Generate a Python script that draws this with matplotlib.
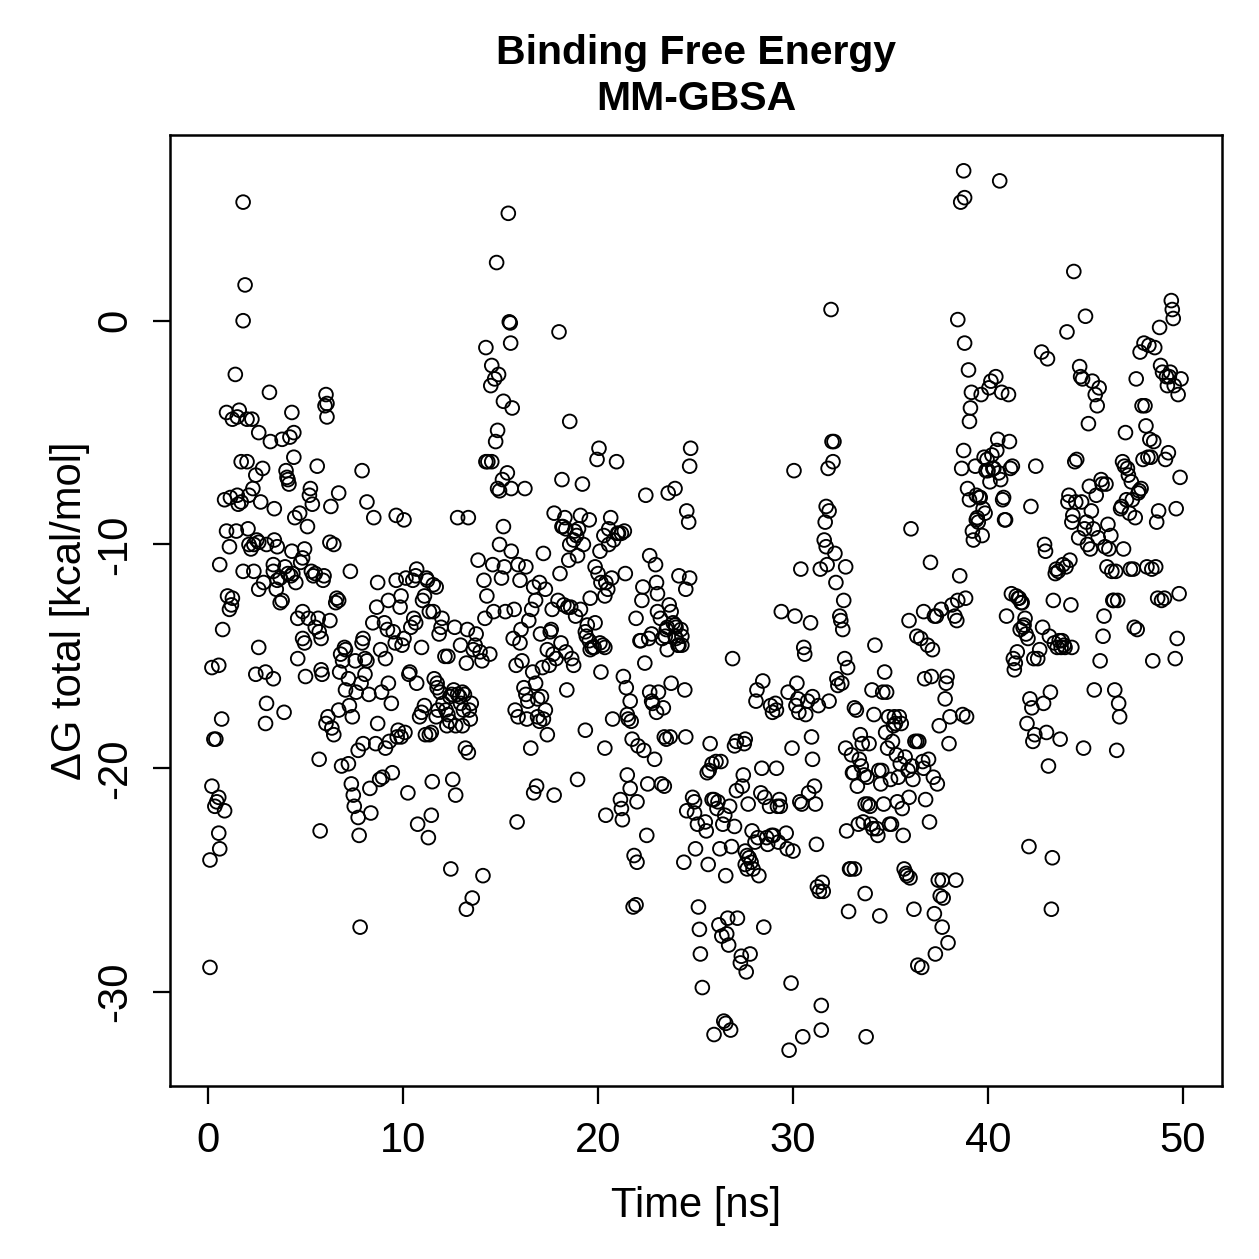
import numpy as np
import matplotlib
matplotlib.use("Agg")
import matplotlib.pyplot as plt

plt.rcParams['font.family'] = ['Liberation Sans', 'DejaVu Sans']
plt.rcParams['axes.unicode_minus'] = False

# values, in blocks of about 5 ns
t_00 = [0.10, 0.10, 0.20, 0.20, 0.30, 0.40, 0.45, 0.35, 0.55, 0.55, 0.55, 0.60, 0.60, 0.70, 0.75, 0.85, 0.85,
        0.95, 0.95, 1.00, 1.10, 1.10, 1.20, 1.25, 1.25, 1.15, 1.40, 1.50, 1.50, 1.60, 1.70, 1.70, 1.45, 1.55,
        1.80, 1.80, 1.80, 1.90, 2.00, 2.00, 2.05, 2.10, 2.10, 2.20, 2.35, 2.35, 2.30, 2.25, 2.45, 2.45, 2.50,
        2.60, 2.60, 2.60, 2.60, 2.70, 2.80, 2.85, 2.95, 2.95, 3.00, 3.00, 3.15, 3.20, 3.35, 3.35, 3.35, 3.40,
        3.40, 3.55, 3.55, 3.50, 3.70, 3.70, 3.80, 3.80, 3.90, 3.95, 4.10, 4.10, 4.00, 4.05, 4.15, 4.25, 4.30,
        4.30, 4.20, 4.40, 4.40, 4.35, 4.50, 4.45, 4.60, 4.60, 4.70, 4.75, 4.85, 4.85, 4.85, 4.95, 4.95, 5.00]
g_00 = [-28.9, -24.1, -20.8, -15.5, -18.7, -18.7, -21.5, -21.7, -21.3, -22.9, -15.4, -23.6, -10.9, -17.8, -13.8,
        -21.9, -8.0, -4.1, -9.4, -12.3, -12.9, -10.1, -12.7, -12.4, -4.4, -7.9, -2.4, -4.3, -7.8, -4.0, -8.1,
        -6.3, -9.4, -8.2, 5.3, 0.0, -11.2, 1.6, -6.3, -4.4, -9.3, -10.0, -7.8, -10.2, -10.0, -11.2, -7.5, -4.4,
        -6.9, -15.8, -9.8, -9.9, -5.0, -12.0, -14.6, -8.1, -6.6, -11.7, -15.7, -18.0, -10.0, -17.1, -3.2, -5.4,
        -11.2, -10.9, -16.0, -8.4, -9.8, -10.1, -11.6, -12.0, -11.5, -12.6, -12.5, -5.3, -17.5, -11.0, -11.3,
        -7.1, -6.7, -7.0, -7.3, -11.4, -10.3, -4.1, -5.2, -5.0, -6.1, -11.3, -11.7, -8.8, -13.3, -15.1, -8.6,
        -10.8, -10.6, -13.0, -14.2, -14.4, -10.2, -15.9]

t_05 = [5.10, 5.15, 5.20, 5.25, 5.35, 5.30, 5.40, 5.50, 5.50, 5.60, 5.65, 5.70, 5.70, 5.80, 5.80, 5.85, 5.75,
        5.90, 5.95, 6.00, 6.10, 6.10, 6.05, 6.05, 6.15, 6.25, 6.25, 6.30, 6.35, 6.45, 6.45, 6.55, 6.60, 6.70,
        6.70, 6.70, 6.75, 6.80, 6.85, 6.90, 7.00, 7.05, 7.05, 7.20, 7.20, 7.25, 7.40, 7.30, 7.35, 7.45, 7.50,
        7.70, 7.70, 7.55, 7.60, 7.75, 7.80, 7.85, 7.90, 7.90, 7.95, 7.95, 8.05, 8.05, 8.15, 8.15, 8.25, 8.30,
        8.35, 8.45, 8.50, 8.60, 8.65, 8.70, 8.70, 8.80, 8.95, 8.85, 8.90, 9.05, 9.20, 9.10, 9.10, 9.25, 9.25,
        9.30, 9.40, 9.45, 9.50, 9.60, 9.65, 9.65, 9.70, 9.75, 9.90, 9.90, 9.85, 9.95]
g_05 = [-9.2, -13.3, -7.8, -7.5, -8.2, -11.2, -11.4, -11.3, -13.7, -6.5, -13.3, -13.9, -19.6, -14.2, -15.6,
        -15.8, -22.8, -11.6, -11.4, -3.8, -3.7, -4.3, -3.3, -18.0, -17.7, -9.9, -13.4, -8.3, -18.2, -18.5,
        -10.0, -12.6, -12.4, -7.7, -17.4, -12.5, -15.7, -14.9, -19.9, -15.2, -14.6, -14.7, -16.5, -16.0, -19.8,
        -17.2, -17.7, -11.2, -20.7, -21.2, -21.7, -22.2, -19.2, -15.2, -16.6, -23.0, -27.1, -16.2, -14.4, -6.7,
        -14.2, -18.9, -15.8, -15.1, -15.2, -8.1, -16.7, -20.9, -22.0, -13.5, -8.8, -18.9, -12.8, -18.0, -11.7,
        -20.5, -20.4, -14.7, -16.6, -13.5, -13.8, -19.1, -15.1, -12.5, -16.2, -18.8, -17.1, -20.2, -13.9, -14.4,
        -8.7, -11.6, -18.6, -18.3, -18.6, -12.3, -12.8, -14.5]

t_10 = [10.05, 10.05, 10.10, 10.15, 10.25, 10.30, 10.35, 10.40, 10.50, 10.55, 10.65, 10.65, 10.70, 10.70, 10.75,
        10.85, 10.95, 10.95, 11.00, 11.10, 11.10, 11.15, 11.20, 11.25, 11.30, 11.35, 11.35, 11.45, 11.45, 11.50,
        11.55, 11.55, 11.60, 11.75, 11.75, 11.70, 11.70, 11.80, 11.85, 11.90, 11.95, 12.00, 12.05, 12.20, 12.30,
        12.30, 12.15, 12.25, 12.40, 12.40, 12.45, 12.50, 12.60, 12.55, 12.65, 12.70, 12.70, 12.80, 12.80, 12.90,
        12.95, 12.95, 13.05, 13.05, 13.15, 13.10, 13.20, 13.25, 13.25, 13.30, 13.35, 13.35, 13.40, 13.45, 13.50,
        13.55, 13.60, 13.70, 13.75, 13.85, 13.95, 14.05, 14.10, 14.15, 14.20, 14.25, 14.25, 14.30, 14.35, 14.55,
        14.45, 14.50, 14.55, 14.60, 14.65, 14.70, 14.75, 14.80, 14.85, 14.85, 14.95, 14.95, 14.90]
g_10 = [-8.9, -14.2, -18.4, -11.5, -21.1, -15.8, -15.7, -13.7, -11.6, -13.3, -13.5, -11.4, -11.1, -16.2, -22.5,
        -17.7, -17.5, -14.6, -12.5, -12.3, -17.2, -18.5, -11.5, -11.6, -23.1, -13.0, -18.5, -18.4, -22.1, -20.6,
        -11.8, -13.0, -16.0, -16.2, -16.4, -11.9, -17.7, -17.4, -14.0, -16.6, -13.7, -13.3, -17.1, -17.4, -17.6,
        -15.0, -15.0, -18.1, -16.8, -17.9, -24.5, -16.7, -16.5, -20.5, -13.7, -18.1, -21.2, -8.8, -16.7, -16.8,
        -14.5, -17.1, -16.6, -18.1, -16.7, -17.4, -19.1, -15.3, -26.3, -13.8, -8.8, -19.3, -17.4, -17.8, -17.1,
        -25.8, -14.7, -14.5, -14.0, -10.7, -14.8, -15.2, -24.8, -11.6, -13.3, -1.2, -6.3, -12.3, -6.3, -6.3,
        -14.9, -2.9, -2.0, -10.9, -13.0, -2.6, -5.4, 2.6, -4.9, -7.5, -7.6, -10.0, -2.4]

t_15 = [15.05, 15.10, 15.15, 15.15, 15.20, 15.25, 15.35, 15.40, 15.45, 15.50, 15.52, 15.55, 15.55, 15.60, 15.65,
        15.70, 15.75, 15.80, 15.85, 15.90, 15.90, 16.00, 16.00, 16.05, 16.10, 16.20, 16.30, 16.30, 16.25, 16.35,
        16.40, 16.45, 16.55, 16.60, 16.65, 16.70, 16.70, 16.80, 16.80, 16.85, 16.90, 16.90, 17.00, 17.00, 17.05,
        17.10, 17.15, 17.20, 17.20, 17.30, 17.30, 17.40, 17.40, 17.50, 17.55, 17.60, 17.65, 17.70, 17.75, 17.75,
        17.85, 17.95, 18.00, 18.05, 18.10, 18.15, 18.15, 18.20, 18.35, 18.30, 18.25, 18.35, 18.40, 18.45, 18.50,
        18.55, 18.55, 18.60, 18.65, 18.75, 18.75, 18.80, 18.90, 18.85, 18.95, 18.95, 19.00, 19.10, 19.10, 19.20,
        19.25, 19.35, 19.35, 19.40, 19.55, 19.55, 19.45, 19.60, 19.60, 19.70, 19.80, 19.85, 19.85, 19.95, 20.00,
        20.05]
g_15 = [-11.5, -7.1, -3.6, -9.2, -11.0, -13.0, -6.8, 4.8, -0.05, -0.1, -1.0, -7.5, -10.3, -3.9, -14.2, -12.9,
        -17.4, -15.4, -22.4, -10.9, -17.7, -14.4, -11.6, -13.8, -15.2, -16.4, -16.7, -11.0, -7.5, -17.8, -17.0,
        -13.4, -19.1, -12.9, -15.7, -11.9, -21.1, -16.2, -12.5, -20.8, -16.9, -17.7, -17.9, -11.7, -14.0, -16.8,
        -15.5, -10.4, -17.8, -17.4, -12.0, -14.7, -18.5, -15.4, -13.9, -13.8, -12.9, -14.9, -8.6, -21.2, -15.1,
        -12.5, -0.5, -11.3, -14.4, -7.1, -9.2, -9.2, -9.3, -8.8, -12.7, -14.8, -16.5, -12.8, -10.7, -10.0, -4.5,
        -12.8, -15.1, -9.8, -15.4, -9.4, -9.6, -13.2, -20.5, -10.5, -9.3, -8.7, -12.9, -7.3, -10.0, -18.3, -13.9,
        -14.1, -14.3, -8.9, -13.6, -14.7, -12.4, -14.6, -14.6, -13.5, -11.0, -6.2, -11.3, -5.7]

t_20 = [20.10, 20.10, 20.15, 20.15, 20.25, 20.35, 20.35, 20.35, 20.30, 20.40, 20.40, 20.50, 20.55, 20.55, 20.65,
        20.70, 20.75, 20.80, 20.95, 21.00, 21.05, 21.20, 21.15, 21.20, 21.25, 21.30, 21.35, 21.40, 21.45, 21.50,
        21.50, 21.55, 21.65, 21.65, 21.70, 21.75, 21.80, 21.95, 21.85, 22.00, 22.00, 21.95, 22.05, 22.15, 22.20,
        22.25, 22.30, 22.35, 22.40, 22.45, 22.50, 22.55, 22.60, 22.75, 22.65, 22.65, 22.75, 22.80, 22.90, 22.95,
        23.00, 23.00, 23.05, 23.05, 23.10, 23.20, 23.25, 23.40, 23.30, 23.35, 23.40, 23.45, 23.50, 23.50, 23.55,
        23.55, 23.60, 23.65, 23.75, 23.75, 23.70, 23.85, 23.95, 23.95, 23.95, 24.00, 24.00, 24.10, 24.15, 24.15,
        24.25, 24.30, 24.30, 24.40, 24.45, 24.50, 24.50, 24.55, 24.55, 24.65, 24.70, 24.70, 24.75, 24.85, 24.95,
        24.95]
g_20 = [-10.3, -14.4, -11.7, -15.7, -14.5, -14.6, -12.3, -19.1, -9.6, -22.1, -11.7, -12.0, -10.0, -9.3, -8.8,
        -11.5, -17.8, -9.8, -6.3, -9.5, -9.5, -9.5, -21.4, -21.8, -22.3, -15.9, -9.4, -11.3, -16.4, -20.3, -17.6,
        -17.8, -17.0, -20.9, -17.9, -18.7, -26.2, -26.1, -23.9, -24.2, -21.5, -13.3, -19.0, -14.3, -14.3, -12.5,
        -11.9, -19.2, -15.3, -7.8, -23.0, -20.7, -14.2, -14.0, -16.6, -10.5, -17.0, -17.1, -19.6, -10.9, -11.7,
        -17.5, -13.0, -12.2, -16.6, -13.3, -20.7, -20.8, -14.2, -17.3, -18.6, -14.1, -13.8, -18.7, -13.7, -14.7,
        -7.7, -12.7, -13.0, -16.2, -18.6, -13.5, -13.6, -14.1, -7.5, -13.7, -14.2, -14.5, -11.4, -14.5, -13.8,
        -14.1, -14.5, -24.2, -16.5, -18.6, -12.0, -8.5, -21.9, -9.0, -6.5, -11.5, -5.7, -21.3, -21.5, -22.0]

t_25 = [25.00, 25.10, 25.15, 25.20, 25.25, 25.35, 25.50, 25.55, 25.60, 25.70, 25.65, 25.75, 25.85, 25.85, 25.95,
        25.95, 26.05, 26.10, 26.15, 26.20, 26.25, 26.30, 26.35, 26.40, 26.45, 26.55, 26.55, 26.50, 26.60, 26.65,
        26.70, 26.75, 26.80, 26.85, 26.90, 27.00, 27.00, 27.10, 27.10, 27.15, 27.30, 27.35, 27.40, 27.45, 27.50,
        27.55, 27.55, 27.55, 27.65, 27.65, 27.60, 27.70, 27.75, 27.80, 27.85, 27.90, 27.95, 28.05, 28.20, 28.10,
        28.15, 28.25, 28.35, 28.40, 28.45, 28.50, 28.55, 28.65, 28.70, 28.80, 28.85, 28.90, 28.95, 29.00, 29.10,
        29.15, 29.15, 29.20, 29.25, 29.30, 29.35, 29.40, 29.65, 29.70, 29.75, 29.80, 29.90, 29.95, 30.00]
g_25 = [-23.6, -22.5, -26.2, -27.2, -28.3, -29.8, -22.4, -22.8, -20.2, -20.1, -24.3, -18.9, -21.4, -19.8, -31.9,
        -21.4, -19.7, -21.8, -21.5, -27.0, -23.6, -19.7, -27.5, -22.5, -31.3, -31.4, -24.8, -22.1, -27.4, -26.7,
        -27.9, -21.7, -31.7, -23.5, -15.1, -22.6, -19.0, -18.8, -21.0, -26.7, -28.7, -28.4, -20.8, -20.3, -18.9,
        -18.7, -23.7, -24.3, -23.9, -24.5, -29.1, -21.6, -24.0, -28.3, -24.2, -22.8, -24.5, -23.3, -23.1, -17.0,
        -16.5, -24.8, -21.1, -20.0, -16.1, -27.1, -21.3, -23.1, -23.4, -21.7, -17.2, -23.0, -17.5, -23.0, -17.1,
        -17.4, -20.0, -21.7, -23.3, -21.4, -21.7, -13.0, -22.9, -23.6, -16.6, -32.6, -29.6, -19.1, -23.7]

t_30 = [30.05, 30.10, 30.15, 30.20, 30.25, 30.30, 30.35, 30.40, 30.45, 30.50, 30.55, 30.60, 30.65, 30.75, 30.80,
        30.90, 30.95, 31.00, 31.00, 31.10, 31.15, 31.20, 31.25, 31.30, 31.35, 31.40, 31.45, 31.45, 31.50, 31.55,
        31.60, 31.65, 31.70, 31.70, 31.75, 31.80, 31.85, 31.85, 31.95, 32.00, 32.10, 32.05, 32.15, 32.20, 32.25,
        32.30, 32.40, 32.45, 32.50, 32.55, 32.60, 32.65, 32.70, 32.70, 32.75, 32.80, 32.85, 32.90, 32.95, 33.00,
        33.05, 33.10, 33.15, 33.15, 33.25, 33.30, 33.35, 33.40, 33.45, 33.50, 33.55, 33.60, 33.65, 33.70, 33.70,
        33.75, 33.80, 33.85, 33.90, 33.95, 34.00, 34.05, 34.10, 34.15, 34.20, 34.30, 34.35, 34.40, 34.45, 34.50,
        34.55, 34.60, 34.65, 34.70, 34.75, 34.80, 34.85, 34.90, 34.95]
g_30 = [-6.7, -13.2, -17.2, -16.2, -16.9, -17.5, -21.5, -11.1, -21.6, -32.0, -14.6, -14.9, -17.6, -17.0, -21.1,
        -13.5, -18.6, -16.8, -19.6, -20.8, -21.6, -23.4, -25.3, -17.2, -25.5, -11.1, -31.7, -30.6, -25.1, -25.5,
        -9.8, -9.0, -10.1, -8.3, -10.9, -6.6, -8.5, -17.0, 0.5, -5.4, -5.4, -6.3, -10.4, -11.7, -16.0, -16.3,
        -13.2, -13.4, -16.2, -13.8, -12.5, -15.1, -11.0, -19.1, -22.8, -15.5, -26.4, -24.5, -24.5, -19.4, -20.2,
        -20.2, -17.3, -24.5, -17.4, -20.8, -22.5, -19.6, -18.5, -19.9, -18.9, -22.4, -20.3, -21.6, -25.6, -32.0,
        -20.4, -21.6, -18.9, -21.7, -22.5, -16.5, -22.7, -17.6, -14.5, -22.7, -23.0, -20.1, -26.6, -20.7, -20.1,
        -16.6, -21.6, -15.7, -18.4, -16.6, -19.1, -17.7, -22.5]

t_35 = [35.00, 35.05, 35.10, 35.15, 35.20, 35.25, 35.30, 35.35, 35.40, 35.45, 35.50, 35.55, 35.60, 35.65, 35.70,
        35.75, 35.80, 35.85, 35.90, 35.95, 35.95, 36.00, 36.05, 36.10, 36.15, 36.20, 36.25, 36.35, 36.35, 36.40,
        36.45, 36.55, 36.60, 36.65, 36.70, 36.70, 36.75, 36.80, 36.90, 36.95, 37.00, 37.05, 37.10, 37.15, 37.20,
        37.25, 37.25, 37.30, 37.35, 37.40, 37.45, 37.50, 37.55, 37.60, 37.65, 37.65, 37.70, 37.80, 37.85, 37.90,
        37.95, 38.00, 38.05, 38.15, 38.30, 38.35, 38.40, 38.45, 38.45, 38.55, 38.60, 38.65, 38.70, 38.75, 38.75,
        38.80, 38.80, 38.85, 38.90, 38.95, 39.00, 39.05, 39.05, 39.10, 39.15, 39.20, 39.25, 39.35, 39.40, 39.40,
        39.45, 39.50, 39.55, 39.60, 39.65, 39.70, 39.75, 39.80, 39.85, 39.90, 39.95]
g_35 = [-20.5, -22.5, -18.8, -18.1, -17.7, -18.0, -19.4, -21.5, -20.4, -17.7, -19.8, -18.0, -21.8, -23.0, -24.5,
        -19.5, -24.7, -24.8, -20.1, -21.3, -13.4, -24.9, -9.3, -19.9, -20.5, -26.3, -18.8, -18.8, -14.1, -28.8,
        -18.8, -14.2, -28.9, -19.7, -13.0, -20.0, -16.0, -21.4, -14.5, -19.6, -22.4, -10.8, -15.9, -14.7, -20.4,
        -13.2, -26.5, -28.3, -13.2, -20.7, -25.0, -18.1, -25.7, -12.9, -25.0, -27.1, -25.8, -16.9, -16.2, -15.9,
        -27.8, -18.9, -17.7, -12.7, -13.2, -25.0, -13.4, -12.5, 0.05, -11.4, 5.3, -6.6, -17.6, 6.7, -5.8, 5.5,
        -1.0, -12.4, -17.7, -7.5, -2.2, -4.5, -8.0, -3.9, -3.2, -9.4, -9.8, -6.5, -8.9, -7.8, -8.8, -9.0, -7.9,
        -7.9, -3.3, -9.6, -8.4, -6.1, -8.6, -6.7, -6.2]

t_40 = [40.00, 40.05, 40.10, 40.15, 40.20, 40.25, 40.30, 40.40, 40.45, 40.50, 40.55, 40.60, 40.65, 40.70, 40.75,
        40.80, 40.85, 40.90, 40.95, 41.05, 41.10, 41.15, 41.20, 41.25, 41.30, 41.35, 41.40, 41.45, 41.50, 41.55,
        41.60, 41.65, 41.70, 41.75, 41.80, 41.85, 41.90, 41.95, 42.00, 42.05, 42.10, 42.15, 42.20, 42.25, 42.30,
        42.35, 42.40, 42.45, 42.55, 42.65, 42.75, 42.80, 42.85, 42.90, 42.95, 43.00, 43.05, 43.10, 43.15, 43.20,
        43.25, 43.30, 43.35, 43.40, 43.45, 43.50, 43.55, 43.60, 43.65, 43.70, 43.75, 43.80, 43.85, 43.90, 43.95,
        44.00, 44.05, 44.10, 44.15, 44.20, 44.25, 44.30, 44.30, 44.35, 44.40, 44.45, 44.50, 44.55, 44.65, 44.70,
        44.75, 44.80, 44.85, 44.90, 44.95]
g_40 = [-6.7, -3.0, -7.2, -2.7, -6.0, -6.6, -6.6, -2.5, -5.8, -5.3, -6.8, 6.25, -7.1, -3.2, -8.0, -7.9, -8.9,
        -8.9, -13.2, -3.3, -5.4, -6.6, -12.2, -6.5, -15.1, -15.6, -15.3, -12.3, -14.8, -12.4, -12.4, -13.8, -12.6,
        -12.6, -13.7, -13.6, -13.3, -14.0, -18.0, -14.2, -23.5, -16.9, -8.3, -17.3, -18.8, -15.1, -18.5, -6.5,
        -15.1, -14.7, -1.4, -13.7, -17.1, -10.0, -10.3, -18.4, -1.7, -19.9, -14.1, -16.6, -26.3, -24.0, -12.5,
        -14.4, -11.3, -11.1, -14.6, -11.2, -14.3, -18.7, -14.6, -14.3, -10.9, -14.5, -14.6, -11.0, -0.5, -8.1,
        -7.8, -10.7, -12.7, -14.6, -9.0, -8.7, 2.2, -6.3, -8.1, -6.2, -9.7, -2.05, -2.5, -8.1, -2.6, -19.1, -9.3]

t_45 = [45.00, 45.05, 45.10, 45.15, 45.20, 45.25, 45.30, 45.35, 45.40, 45.45, 45.50, 45.55, 45.60, 45.65, 45.70,
        45.75, 45.80, 45.85, 45.90, 45.95, 46.00, 46.05, 46.10, 46.15, 46.20, 46.30, 46.35, 46.40, 46.45, 46.50,
        46.55, 46.60, 46.65, 46.70, 46.75, 46.80, 46.85, 46.90, 46.95, 47.00, 47.05, 47.10, 47.15, 47.20, 47.25,
        47.30, 47.35, 47.40, 47.45, 47.50, 47.55, 47.60, 47.65, 47.70, 47.75, 47.80, 47.85, 47.90, 47.95, 48.00,
        48.05, 48.10, 48.15, 48.20, 48.25, 48.30, 48.35, 48.40, 48.45, 48.50, 48.55, 48.60, 48.65, 48.70, 48.75,
        48.80, 48.85, 48.90, 48.95, 49.05, 49.10, 49.15, 49.20, 49.25, 49.30, 49.35, 49.40, 49.45, 49.50, 49.55,
        49.60, 49.65, 49.70, 49.75, 49.80, 49.85, 49.90]
g_45 = [0.2, -9.0, -10.0, -4.6, -7.4, -10.2, -8.5, -2.7, -9.3, -16.5, -3.3, -7.8, -3.8, -9.7, -3.0, -15.2, -7.1,
        -7.3, -14.1, -13.2, -10.1, -7.3, -11.0, -9.1, -10.2, -9.6, -11.2, -12.5, -12.5, -16.5, -11.2, -19.2,
        -12.5, -17.1, -17.7, -8.4, -8.3, -6.3, -10.2, -6.5, -5.0, -8.0, -6.6, -6.9, -8.6, -11.1, -7.2, -8.0,
        -11.1, -13.7, -8.8, -2.6, -13.8, -7.7, -7.6, -1.4, -7.5, -3.8, -6.2, -1.0, -3.8, -4.7, -11.0, -6.1, -1.1,
        -5.3, -6.1, -11.1, -15.2, -5.4, -1.2, -11.0, -9.0, -12.4, -8.5, -0.3, -2.0, -12.5, -2.3, -12.4, -6.2,
        -2.5, -2.9, -5.9, -2.5, -2.3, 0.9, 0.5, 0.1, -2.9, -15.1, -8.4, -14.2, -3.3, -12.2, -7.0, -2.6]

time_ns = np.concatenate([t_00, t_05, t_10, t_15, t_20, t_25, t_30, t_35, t_40, t_45])
dg_total = np.concatenate([g_00, g_05, g_10, g_15, g_20, g_25, g_30, g_35, g_40, g_45])

fig = plt.figure(figsize=(1259 / 180, 1259 / 180), dpi=180)
ax = fig.add_axes([170 / 1259, 1 - 1086 / 1259, 1052 / 1259, 951 / 1259])

ax.scatter(time_ns, dg_total, s=30, facecolors='none', edgecolors='black', linewidths=0.75)

ax.set_xlim(-1.95, 52.0)
ax.set_ylim(-34.2, 8.3)
ax.set_xticks([0, 10, 20, 30, 40, 50])
ax.set_yticks([-30, -20, -10, 0])
ax.tick_params(axis='both', direction='out', length=7, width=0.9, labelsize=16.7, pad=7)
for lab in ax.get_yticklabels():
    lab.set_rotation(90)
    lab.set_va('center')
for sp in ax.spines.values():
    sp.set_linewidth(1.0)

ax.set_xlabel('Time [ns]', fontsize=16.7, labelpad=10)
ax.set_ylabel('ΔG total [kcal/mol]', fontsize=16.7, labelpad=2)
ax.set_title('Binding Free Energy\nMM-GBSA', fontsize=16.4, fontweight='bold', pad=10, linespacing=1.25)

fig.savefig('out.png', dpi=180)
